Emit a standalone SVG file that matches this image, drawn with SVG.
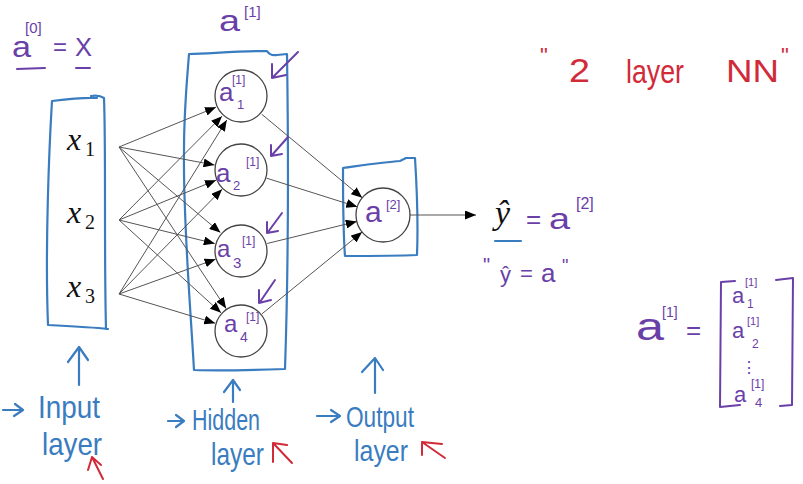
<svg xmlns="http://www.w3.org/2000/svg" width="803" height="484" viewBox="0 0 803 484">
<defs>
<style>
.bl{stroke:#3a7cc0;stroke-width:2.2;fill:none;stroke-linecap:round;stroke-linejoin:round}
.ps{stroke:#6a40a8;stroke-width:2;fill:none;stroke-linecap:round;stroke-linejoin:round}
.rs{stroke:#d12b3a;stroke-width:2;fill:none;stroke-linecap:round;stroke-linejoin:round}
.conn{stroke:#555;stroke-width:1;fill:none;marker-end:url(#ah)}
.node{fill:#fff;stroke:#444;stroke-width:1.3}
.pt{fill:#6a40a8;font-family:"Liberation Sans",sans-serif}
.mt{fill:#111;font-family:"Liberation Serif",serif;font-style:italic}
.mn{fill:#111;font-family:"Liberation Serif",serif}
.bt{fill:#3a7cc0;font-family:"Liberation Sans",sans-serif}
.rt{fill:#d12b3a;font-family:"Liberation Sans",sans-serif}
</style>
<marker id="ah" markerUnits="userSpaceOnUse" markerWidth="11" markerHeight="9" refX="11" refY="4.5" orient="auto">
<path d="M0,0 L11,4.5 L0,9 z" fill="#000"/>
</marker>
</defs>
<rect width="803" height="484" fill="#fff"/>

<!-- top-left a[0] = X -->
<g id="a0-eq-x">
<text class="pt" x="12" y="57" font-size="30" textLength="19" lengthAdjust="spacingAndGlyphs">a</text>
<text class="pt" x="25" y="33" font-size="15">[0]</text>
<text class="pt" x="53" y="55" font-size="24">=</text>
<text class="pt" x="75" y="56" font-size="26" textLength="17" lengthAdjust="spacingAndGlyphs">X</text>
<path class="ps" d="M17,69 L45,68 M76,68 L90,68"/>
</g>

<!-- a[1] label -->
<g id="a1-label">
<text class="pt" x="219" y="31" font-size="30" textLength="21" lengthAdjust="spacingAndGlyphs">a</text>
<text class="pt" x="244" y="17" font-size="15">[1]</text>
</g>

<!-- 2 layer NN -->
<g id="title">
<text class="rt" x="540" y="63" font-size="22">"</text>
<text class="rt" x="569" y="82" font-size="34" textLength="21" lengthAdjust="spacingAndGlyphs">2</text>
<text class="rt" x="626" y="83" font-size="34" textLength="58" lengthAdjust="spacingAndGlyphs">layer</text>
<text class="rt" x="726" y="82" font-size="32" textLength="53" lengthAdjust="spacingAndGlyphs">NN</text>
<text class="rt" x="781" y="63" font-size="22">"</text>
</g>

<!-- layer boxes -->
<g id="input-layer">
<path class="bl" d="M52,101 C68,99 84,97 97,98 M91,96 C96,95 101,96 104,98 C106,150 104,250 106,329 M108,329 C90,327 68,326 48,325 C45,250 49,150 52,101"/>
<text class="mt" x="67" y="150" font-size="32">x</text><text class="mn" x="85" y="156" font-size="20">1</text>
<text class="mt" x="67" y="223" font-size="32">x</text><text class="mn" x="85" y="229" font-size="20">2</text>
<text class="mt" x="67" y="297" font-size="32">x</text><text class="mn" x="85" y="303" font-size="20">3</text>
</g>
<g id="hidden-layer">
<path class="bl" d="M189,54 C215,53 245,51 267,51 Q270,56 277,55 L287,54 C288,120 289,250 285,369 C255,370 220,371 194,370 C190,300 183,220 184,150 C184,110 187,80 189,54"/>
</g>
<g id="output-layer">
<path class="bl" d="M343,168 C365,165 385,162 400,161 L406,158 L415,158 C417,190 418,230 417,255 C395,256 370,256 345,256 C343,230 343,200 343,168"/>
</g>

<!-- connectors -->
<g id="connectors">
<line class="conn" x1="119" y1="147" x2="216" y2="107.2"/>
<line class="conn" x1="119" y1="220" x2="222" y2="116.2"/>
<line class="conn" x1="119" y1="294" x2="226.8" y2="120"/>
<line class="conn" x1="119" y1="147" x2="214.5" y2="165"/>
<line class="conn" x1="119" y1="220" x2="216" y2="180.2"/>
<line class="conn" x1="119" y1="294" x2="222.1" y2="189.2"/>
<line class="conn" x1="119" y1="147" x2="220.4" y2="232.6"/>
<line class="conn" x1="119" y1="220" x2="214.8" y2="243.6"/>
<line class="conn" x1="119" y1="294" x2="215.6" y2="259.2"/>
<line class="conn" x1="119" y1="147" x2="226.1" y2="308.5"/>
<line class="conn" x1="119" y1="220" x2="221" y2="312.8"/>
<line class="conn" x1="119" y1="294" x2="215.2" y2="323.2"/>
<line class="conn" x1="261.8" y1="114.3" x2="362.2" y2="197.7"/>
<line class="conn" x1="266.7" y1="178.2" x2="357.3" y2="206.8"/>
<line class="conn" x1="267.2" y1="243.5" x2="356.8" y2="221.5"/>
<line class="conn" x1="261.9" y1="313.9" x2="362.1" y2="232.1"/>
<line class="conn" x1="410" y1="215" x2="476" y2="215"/>
</g>

<!-- hidden nodes -->
<g id="h1">
<circle class="node" cx="241" cy="96" r="26"/>
<text class="pt" x="219" y="101" font-size="26">a</text>
<text class="pt" x="237" y="109" font-size="13">1</text>
<text class="pt" x="232" y="84" font-size="12">[1]</text>
</g>
<g id="h2">
<circle class="node" cx="241" cy="170" r="26"/>
<text class="pt" x="216" y="182" font-size="26">a</text>
<text class="pt" x="233" y="190" font-size="13">2</text>
<text class="pt" x="246" y="166" font-size="12">[1]</text>
</g>
<g id="h3">
<circle class="node" cx="241" cy="251" r="26"/>
<text class="pt" x="217" y="257" font-size="24">a</text>
<text class="pt" x="233" y="268" font-size="15">3</text>
<text class="pt" x="242" y="245" font-size="12">[1]</text>
</g>
<g id="h4">
<circle class="node" cx="241" cy="331" r="26"/>
<text class="pt" x="224" y="332" font-size="24">a</text>
<text class="pt" x="240" y="342" font-size="14">4</text>
<text class="pt" x="246" y="321" font-size="12">[1]</text>
</g>
<g id="out">
<circle class="node" cx="383" cy="215" r="27"/>
<text class="pt" x="365" y="222" font-size="30">a</text>
<text class="pt" x="386" y="209" font-size="13">[2]</text>
</g>

<!-- purple pointer arrows -->
<g id="pointers">
<path class="ps" d="M298,52 L273,77 M272,64 L272,78 L286,75"/>
<path class="ps" d="M288,137 L272,155 M271,145 L271,156 L282,154"/>
<path class="ps" d="M282,213 L268,232 M267,222 L267,233 L278,231"/>
<path class="ps" d="M275,280 L260,302 M259,290 L259,303 L271,300"/>
</g>

<!-- y-hat -->
<g id="yhat">
<text class="mt" x="495" y="224" font-size="34">ŷ</text>
<path d="M495,241 L521,241" stroke="#3a7cc0" stroke-width="2" stroke-linecap="round"/>
<text class="pt" x="526" y="228" font-size="26">=</text>
<text class="pt" x="549" y="229" font-size="30" textLength="21" lengthAdjust="spacingAndGlyphs">a</text>
<text class="pt" x="576" y="209" font-size="16">[2]</text>
<text class="pt" x="483" y="272" font-size="20">"</text>
<text class="pt" x="500" y="282" font-size="22">ŷ</text>
<text class="pt" x="520" y="281" font-size="22">=</text>
<text class="pt" x="541" y="282" font-size="26">a</text>
<text class="pt" x="562" y="272" font-size="18">"</text>
</g>

<!-- matrix -->
<g id="matrix">
<text class="pt" x="636" y="340" font-size="38" textLength="28" lengthAdjust="spacingAndGlyphs">a</text>
<text class="pt" x="662" y="317" font-size="14">[1]</text>
<text class="pt" x="686" y="339" font-size="26">=</text>
<path class="ps" d="M735,281 L721,282 L720,407 L740,405 M776,280 L793,278 L792,405 L780,406"/>
<text class="pt" x="732" y="303" font-size="22">a</text>
<text class="pt" x="745" y="286" font-size="11">[1]</text>
<text class="pt" x="747" y="308" font-size="12">1</text>
<text class="pt" x="732" y="338" font-size="22">a</text>
<text class="pt" x="747" y="325" font-size="11">[1]</text>
<text class="pt" x="752" y="348" font-size="12">2</text>
<text class="pt" x="741" y="373" font-size="16" font-family="DejaVu Sans">⋮</text>
<text class="pt" x="734" y="402" font-size="22">a</text>
<text class="pt" x="751" y="388" font-size="12">[1]</text>
<text class="pt" x="755" y="407" font-size="13">4</text>
</g>

<!-- bottom labels -->
<g id="label-input">
<path class="bl" d="M79,385 L79,348 M68,362 L79,347 L88,360"/>
<path class="bl" d="M3,410 L22,410 M15,404 L23,410 L14,416"/>
<text class="bt" x="38" y="418" font-size="32" textLength="62" lengthAdjust="spacingAndGlyphs">Input</text>
<text class="bt" x="42" y="455" font-size="32" textLength="60" lengthAdjust="spacingAndGlyphs">layer</text>
<path class="rs" d="M103,479 L92,457 M88,470 L92,457 L101,465"/>
</g>
<g id="label-hidden">
<path class="bl" d="M233,402 L233,381 M224,392 L233,380 L240,390"/>
<path class="bl" d="M168,421 L183,421 M176,415 L184,421 L176,427"/>
<text class="bt" x="192" y="430" font-size="30" textLength="68" lengthAdjust="spacingAndGlyphs">Hidden</text>
<text class="bt" x="211" y="465" font-size="32" textLength="53" lengthAdjust="spacingAndGlyphs">layer</text>
<path class="rs" d="M292,463 L273,443 M273,462 L273,443 L287,445"/>
</g>
<g id="label-output">
<path class="bl" d="M375,393 L375,359 M362,372 L375,358 L383,370"/>
<path class="bl" d="M317,416 L339,416 M331,410 L340,416 L331,422"/>
<text class="bt" x="346" y="427" font-size="29" textLength="68" lengthAdjust="spacingAndGlyphs">Output</text>
<text class="bt" x="354" y="461" font-size="30" textLength="54" lengthAdjust="spacingAndGlyphs">layer</text>
<path class="rs" d="M445,458 L422,442 M422,455 L422,442 L442,444"/>
</g>
</svg>
